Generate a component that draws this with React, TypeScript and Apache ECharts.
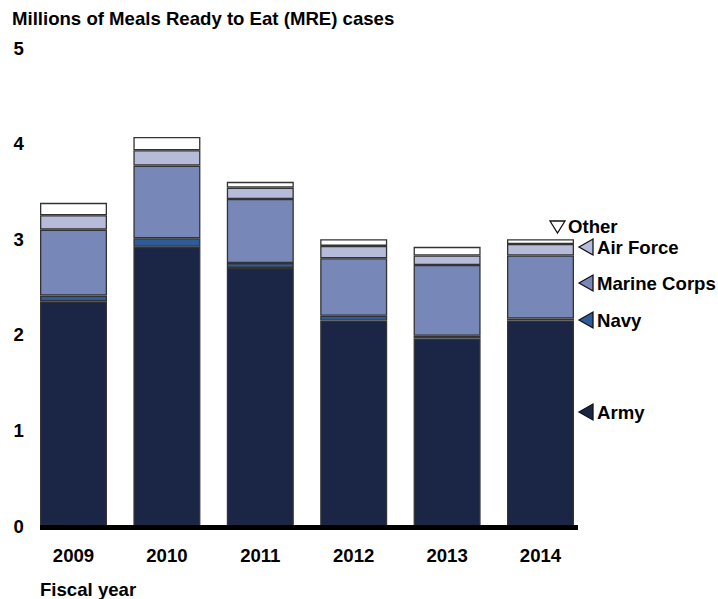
import React, { useEffect, useRef } from "react";
import * as echarts from "echarts";

const years = ["2009", "2010", "2011", "2012", "2013", "2014"];
const army = [2.35, 2.92, 2.7, 2.15, 1.96, 2.15];
const navy = [0.06, 0.09, 0.05, 0.05, 0.03, 0.02];
const marineCorps = [0.69, 0.76, 0.67, 0.6, 0.74, 0.66];
const airForce = [0.15, 0.16, 0.12, 0.13, 0.1, 0.12];
const other = [0.13, 0.14, 0.06, 0.07, 0.09, 0.05];
const yTicks = [0, 1, 2, 3, 4, 5];

const seriesNames = ["Army", "Navy", "Marine Corps", "Air Force", "Other"];
const seriesData = [army, navy, marineCorps, airForce, other];
const colors = ["#1b2647", "#2e5c9a", "#7788b8", "#b6bbda", "#ffffff"];

const FONT = '"Liberation Sans", Arial, sans-serif';
const FS = 18.6;

export default function App() {
  const ref = useRef<HTMLDivElement>(null);
  useEffect(() => {
    document.body.style.margin = "0";
    const chart = echarts.init(ref.current!, null, { renderer: "svg" });
    const legendY = [412, 320, 283, 247];
    const legendGraphics: any[] = [];
    for (let i = 0; i < 4; i++) {
      const cy = legendY[i];
      legendGraphics.push({
        type: "polygon",
        shape: { points: [[579, cy], [593, cy - 8], [593, cy + 8]] },
        style: { fill: colors[i], stroke: "#111", lineWidth: 1.3 },
        z: 10,
      });
      legendGraphics.push({
        type: "text",
        x: 597,
        y: cy,
        style: {
          text: seriesNames[i],
          font: `bold ${FS}px ${FONT}`,
          fill: "#000",
          verticalAlign: "middle",
          align: "left",
        },
        z: 10,
      });
    }
    legendGraphics.push({
      type: "polygon",
      shape: { points: [[550, 221], [565, 221], [557.5, 233]] },
      style: { fill: "#fff", stroke: "#111", lineWidth: 1.3 },
      z: 10,
    });
    legendGraphics.push({
      type: "text",
      x: 568,
      y: 226,
      style: {
        text: seriesNames[4],
        font: `bold ${FS}px ${FONT}`,
        fill: "#000",
        verticalAlign: "middle",
        align: "left",
      },
      z: 10,
    });

    chart.setOption({
      animation: false,
      backgroundColor: "#fff",
      textStyle: { fontFamily: FONT },
      grid: { left: 26.8, top: 48, width: 560.4, height: 478, containLabel: false },
      xAxis: {
        type: "category",
        data: years,
        axisLine: { show: false },
        axisTick: { show: false },
        axisLabel: {
          margin: 20,
          fontSize: FS,
          fontWeight: "bold",
          color: "#000",
          fontFamily: FONT,
        },
      },
      yAxis: {
        type: "value",
        min: 0,
        max: 5,
        interval: 1,
        axisLine: { show: false },
        axisTick: { show: false },
        splitLine: { show: false },
        axisLabel: {
          margin: 3,
          fontSize: FS,
          fontWeight: "bold",
          color: "#000",
          fontFamily: FONT,
          formatter: (v: number) => (yTicks.includes(v) ? String(v) : ""),
        },
      },
      series: seriesData.map((d, i) => ({
        name: seriesNames[i],
        type: "bar",
        stack: "total",
        data: d,
        barWidth: 67,
        itemStyle: { color: colors[i], borderColor: "#333333", borderWidth: 1.3 },
      })),
      graphic: [
        {
          type: "text",
          x: 12,
          y: 18,
          style: {
            text: "Millions of Meals Ready to Eat (MRE) cases",
            font: `bold ${FS}px ${FONT}`,
            fill: "#000",
            verticalAlign: "middle",
          },
        },
        {
          type: "text",
          x: 40,
          y: 589,
          style: {
            text: "Fiscal year",
            font: `bold ${FS}px ${FONT}`,
            fill: "#000",
            verticalAlign: "middle",
          },
        },
        {
          type: "rect",
          shape: { x: 40, y: 525, width: 538, height: 5 },
          style: { fill: "#000" },
          z: 20,
        },
        ...legendGraphics,
      ],
    });
    return () => chart.dispose();
  }, []);
  return <div ref={ref} style={{ width: 718, height: 599 }} />;
}
